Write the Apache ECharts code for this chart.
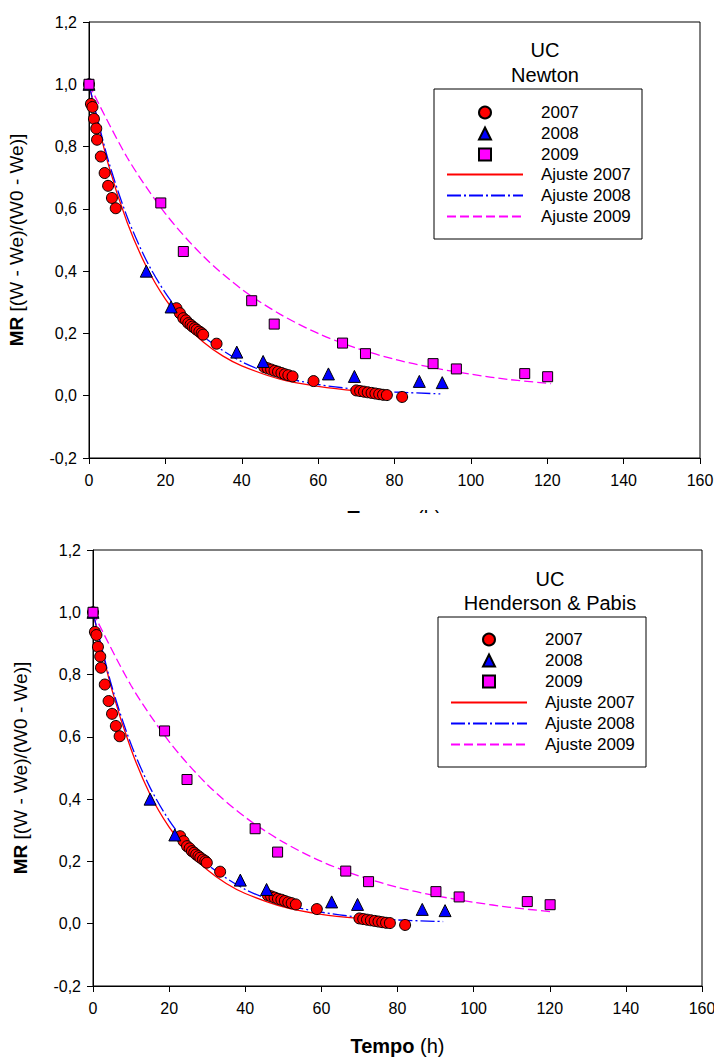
<!DOCTYPE html>
<html>
<head>
<meta charset="utf-8">
<script src="https://cdn.jsdelivr.net/npm/echarts@6/dist/echarts.min.js"></script>
<style>
  html, body { margin: 0; padding: 0; background: #fff; }
  #wrapTop { position: absolute; left: 0; top: 0; width: 714px; height: 513px; overflow: hidden; background: #fff; }
  #chartTop { position: absolute; left: 0; top: 0; width: 714px; height: 540px; }
  #chartBottom { position: absolute; left: 0; top: 513px; width: 714px; height: 546px; background: #fff; }
</style>
</head>
<body>
<div id="wrapTop"><div id="chartTop"></div></div>
<div id="chartBottom"></div>
<script>
// ---------- Tick labels ----------
const xTickLabels = ['0', '20', '40', '60', '80', '100', '120', '140', '160'];
const yTickLabels = ['-0,2', '0,0', '0,2', '0,4', '0,6', '0,8', '1,0', '1,2'];

// ---------- Observed data (same in both panels) ----------
const t2007 = [0, 0.5, 0.9, 1.3, 1.9, 2.1, 3.1, 4.1, 5.0, 6.0, 7.0,
  22.9, 23.8, 24.7, 25.4, 26.0, 26.6, 27.1, 27.7, 28.2, 28.9, 29.5, 29.9, 33.4,
  45.9, 46.8, 47.7, 48.6, 49.5, 50.4, 51.3, 52.2, 53.3, 58.8,
  70.0, 71.0, 72.0, 73.0, 74.0, 75.0, 76.0, 77.0, 78.0, 82.0];
const mr2007 = [1.0, 0.937, 0.927, 0.889, 0.858, 0.822, 0.768, 0.715, 0.674, 0.635, 0.602,
  0.281, 0.265, 0.249, 0.242, 0.233, 0.228, 0.222, 0.217, 0.212, 0.206, 0.201, 0.196, 0.167,
  0.092, 0.088, 0.084, 0.080, 0.077, 0.073, 0.069, 0.066, 0.062, 0.047,
  0.017, 0.015, 0.013, 0.011, 0.009, 0.007, 0.005, 0.003, 0.002, -0.004];

const t2008 = [0, 15.0, 21.5, 38.7, 45.6, 62.7, 69.5, 86.5, 92.5];
const mr2008 = [1.0, 0.40, 0.285, 0.14, 0.11, 0.07, 0.062, 0.046, 0.042];

const t2009 = [0, 18.8, 24.7, 42.6, 48.5, 66.4, 72.4, 90.1, 96.2, 114.1, 120.1];
const mr2009 = [1.0, 0.619, 0.463, 0.305, 0.230, 0.169, 0.135, 0.103, 0.086, 0.071, 0.061];

// ---------- Fitted curves: Newton panel ----------
const nwFitT2007 = [0, 5, 10, 15, 20, 25, 30, 35, 40, 50, 60, 70, 79];
const nwFitMR2007 = [1.0, 0.745, 0.556, 0.415, 0.31, 0.23, 0.172, 0.128, 0.096, 0.053, 0.03, 0.016, 0.01];
const nwFitT2008 = [0, 5, 10, 15, 20, 25, 30, 40, 50, 60, 70, 80, 92];
const nwFitMR2008 = [1.0, 0.758, 0.574, 0.435, 0.33, 0.25, 0.189, 0.109, 0.062, 0.036, 0.021, 0.012, 0.006];
const nwFitT2009 = [0, 10, 20, 30, 40, 50, 60, 70, 80, 90, 100, 110, 121];
const nwFitMR2009 = [1.0, 0.765, 0.585, 0.447, 0.342, 0.262, 0.2, 0.153, 0.117, 0.09, 0.069, 0.052, 0.039];

// ---------- Fitted curves: Henderson & Pabis panel ----------
const hpFitT2007 = [0, 5, 10, 15, 20, 25, 30, 35, 40, 50, 60, 70, 79];
const hpFitMR2007 = [1.0, 0.75, 0.56, 0.415, 0.31, 0.232, 0.173, 0.129, 0.097, 0.054, 0.03, 0.017, 0.01];
const hpFitT2008 = [0, 5, 10, 15, 20, 25, 30, 40, 50, 60, 70, 80, 92];
const hpFitMR2008 = [1.0, 0.76, 0.576, 0.437, 0.332, 0.252, 0.19, 0.11, 0.063, 0.037, 0.021, 0.012, 0.007];
const hpFitT2009 = [0, 10, 20, 30, 40, 50, 60, 70, 80, 90, 100, 110, 121];
const hpFitMR2009 = [1.0, 0.765, 0.585, 0.447, 0.342, 0.262, 0.2, 0.153, 0.117, 0.09, 0.069, 0.052, 0.038];

const pointNames = ['2007', '2008', '2009'];
const fitNames = ['Ajuste 2007', 'Ajuste 2008', 'Ajuste 2009'];

const FONT = "'Liberation Sans', Arial, sans-serif";

function pairs(xs, ys) { return xs.map((x, i) => [x, ys[i]]); }

function buildOption(cfg) {
  const yMin = -0.2, yStep = 0.2;
  const legendText = { fontFamily: FONT, fontSize: 17, color: '#000' };
  return {
    animation: false,
    backgroundColor: '#fff',
    textStyle: { fontFamily: FONT, color: '#000' },
    grid: {
      left: cfg.left, right: cfg.right, top: cfg.top, bottom: cfg.bottom,
      show: true, borderColor: '#000', borderWidth: 1, backgroundColor: 'transparent',
      containLabel: false, outerBoundsMode: 'none'
    },
    graphic: [
      { type: 'rect', z: 3, shape: cfg.legendBox, style: { fill: '#fff', stroke: '#000', lineWidth: 1 } },
      { type: 'text', z: 5, x: cfg.titleX, y: cfg.titleY1,
        style: { text: 'UC', fontFamily: FONT, fontSize: 20, fill: '#000', align: 'center', verticalAlign: 'middle' } },
      { type: 'text', z: 5, x: cfg.titleX, y: cfg.titleY2,
        style: { text: cfg.subtitle, fontFamily: FONT, fontSize: 20, fill: '#000', align: 'center', verticalAlign: 'middle' } }
    ],
    legend: [
      {
        data: pointNames,
        orient: 'vertical',
        left: cfg.boxLeft + 44, top: cfg.legendTop1,
        padding: 0,
        itemWidth: 12, itemHeight: 12, itemGap: 4,
        backgroundColor: 'transparent', borderWidth: 0,
        textStyle: Object.assign({ padding: [0, 0, 0, 45] }, legendText),
        z: 6
      },
      {
        data: fitNames.map(n => ({ name: n, itemStyle: { color: 'transparent', borderWidth: 0, opacity: 0 } })),
        orient: 'vertical',
        left: cfg.boxLeft + 12, top: cfg.legendTop2,
        padding: 0,
        itemWidth: 76, itemHeight: 12, itemGap: 4,
        backgroundColor: 'transparent', borderWidth: 0,
        textStyle: Object.assign({ padding: [0, 0, 0, 13] }, legendText),
        z: 6
      }
    ],
    xAxis: {
      type: 'value', min: 0, max: 160, interval: 20,
      name: '{b|Tempo} (h)', nameLocation: 'middle', nameGap: cfg.xNameGap, nameMoveOverlap: false,
      nameTextStyle: { fontFamily: FONT, fontSize: 20, color: '#000',
        rich: { b: { fontFamily: FONT, fontSize: 20, fontWeight: 'bold', color: '#000' } } },
      axisLine: { show: true, onZero: false, lineStyle: { color: '#000', width: 1 } },
      axisTick: { show: true, inside: false, length: 6, lineStyle: { color: '#000' } },
      axisLabel: { color: '#000', fontFamily: FONT, fontSize: 16, margin: 14,
        formatter: v => xTickLabels[Math.round(v / 20)] },
      splitLine: { show: false }
    },
    yAxis: {
      type: 'value', min: yMin, max: 1.2, interval: yStep,
      name: '{b|MR} [(W - We)/(W0 - We)]', nameLocation: 'middle', nameRotate: 90, nameGap: 63, nameMoveOverlap: false,
      nameTextStyle: { fontFamily: FONT, fontSize: 19, color: '#000',
        rich: { b: { fontFamily: FONT, fontSize: 19, fontWeight: 'bold', color: '#000' } } },
      axisLine: { show: true, onZero: false, lineStyle: { color: '#000', width: 1 } },
      axisTick: { show: true, inside: false, length: 6, lineStyle: { color: '#000' } },
      axisLabel: { color: '#000', fontFamily: FONT, fontSize: 16, margin: 12,
        formatter: v => yTickLabels[Math.round((v - yMin) / yStep)] },
      splitLine: { show: false }
    },
    series: [
      { name: '2007', type: 'scatter', z: 5, symbol: 'circle', symbolSize: 11,
        itemStyle: { color: '#ff0000', borderColor: '#000', borderWidth: 1, opacity: 1 },
        data: pairs(t2007, mr2007) },
      { name: '2008', type: 'scatter', z: 5, symbol: 'triangle', symbolSize: 12,
        itemStyle: { color: '#0000ff', borderColor: '#000', borderWidth: 1, opacity: 1 },
        data: pairs(t2008, mr2008) },
      { name: '2009', type: 'scatter', z: 5, symbol: 'rect', symbolSize: 10,
        itemStyle: { color: '#ff00ff', borderColor: '#000', borderWidth: 1, opacity: 1 },
        data: pairs(t2009, mr2009) },
      { name: 'Ajuste 2007', type: 'line', z: 4, symbol: 'none', smooth: 0.3,
        itemStyle: { color: '#ff0000' },
        lineStyle: { color: '#ff0000', width: 1.3, type: 'solid' },
        data: pairs(cfg.f7t, cfg.f7m) },
      { name: 'Ajuste 2008', type: 'line', z: 4, symbol: 'none', smooth: 0.3,
        itemStyle: { color: '#0000ff' },
        lineStyle: { color: '#0000ff', width: 1.3, type: [14, 3, 2, 3] },
        data: pairs(cfg.f8t, cfg.f8m) },
      { name: 'Ajuste 2009', type: 'line', z: 4, symbol: 'none', smooth: 0.3,
        itemStyle: { color: '#ff00ff' },
        lineStyle: { color: '#ff00ff', width: 1.3, type: [9, 4] },
        data: pairs(cfg.f9t, cfg.f9m) }
    ]
  };
}

const chartTopInst = echarts.init(document.getElementById('chartTop'), null, { renderer: 'svg' });
chartTopInst.setOption(buildOption({
  left: 89, right: 14, top: 22, bottom: 82,
  legendBox: { x: 434, y: 89, width: 208, height: 150 },
  boxLeft: 434, legendTop1: 104, legendTop2: 166,
  titleX: 545, titleY1: 50, titleY2: 75, subtitle: 'Newton',
  xNameGap: 50,
  f7t: nwFitT2007, f7m: nwFitMR2007, f8t: nwFitT2008, f8m: nwFitMR2008, f9t: nwFitT2009, f9m: nwFitMR2009
}));

const chartBottomInst = echarts.init(document.getElementById('chartBottom'), null, { renderer: 'svg' });
chartBottomInst.setOption(buildOption({
  left: 93, right: 12, top: 37, bottom: 73,
  legendBox: { x: 438, y: 104, width: 208, height: 150 },
  boxLeft: 438, legendTop1: 118, legendTop2: 181,
  titleX: 550, titleY1: 66, titleY2: 90, subtitle: 'Henderson & Pabis',
  xNameGap: 50,
  f7t: hpFitT2007, f7m: hpFitMR2007, f8t: hpFitT2008, f8m: hpFitMR2008, f9t: hpFitT2009, f9m: hpFitMR2009
}));
</script>
</body>
</html>
